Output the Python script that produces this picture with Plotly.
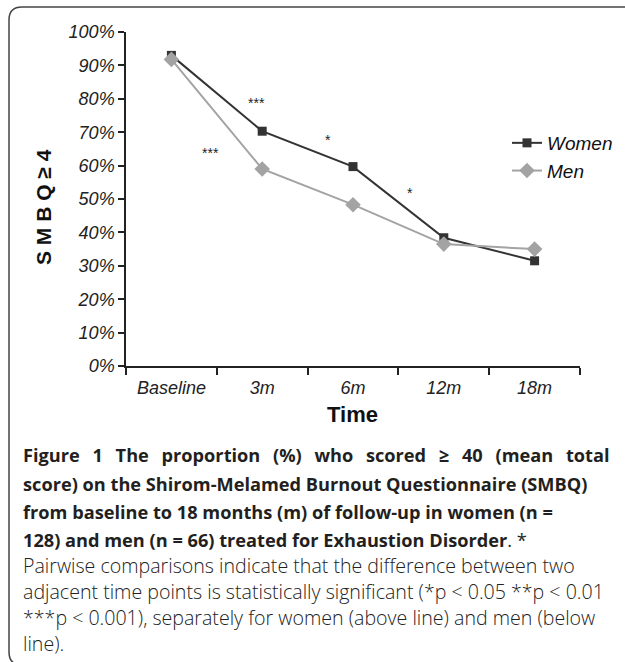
import plotly.graph_objects as go

categories = ["Baseline", "3m", "6m", "12m", "18m"]
women = [93.0, 70.3, 59.7, 38.4, 31.5]
men = [91.8, 59.0, 48.3, 36.5, 35.0]

# significance stars: (x position in category units, y value, label)
star_x = [0.94, 0.43, 1.73, 2.63]
star_y = [78.7, 63.9, 67.7, 51.9]
star_text = ["***", "***", "*", "*"]

W, H = 625, 662
L, R, T, B = 126, 45, 32, 296
PW, PH = W - L - R, H - T - B


def px(x):
    return (x - L) / PW


def py(y):
    return (H - B - y) / PH


TICKFONT = dict(family="Liberation Sans, Arial", size=18,
                color="#222222", style="italic")

fig = go.Figure()
fig.add_trace(go.Scatter(
    x=categories, y=women, name="Women", mode="lines+markers",
    line=dict(color="#333333", width=2),
    marker=dict(symbol="square", size=9, color="#333333"),
))
fig.add_trace(go.Scatter(
    x=categories, y=men, name="Men", mode="lines+markers",
    line=dict(color="#a3a3a3", width=2),
    marker=dict(symbol="diamond", size=12, color="#a3a3a3"),
))

for sx, sy, st in zip(star_x, star_y, star_text):
    fig.add_annotation(x=sx, y=sy, xref="x", yref="y", text=st, showarrow=False,
                       xanchor="center", yanchor="middle",
                       font=dict(family="Liberation Sans, Arial", size=14, color="#222222"))

# axis titles
fig.add_annotation(x=px(43), y=py(207), xref="paper", yref="paper",
                   xanchor="center", yanchor="middle",
                   text="S M B Q ≥ 4", textangle=-90, showarrow=False,
                   font=dict(family="Liberation Sans, Arial", size=21, color="#111111", weight="bold"))
fig.add_annotation(x=px(352), y=py(414), xref="paper", yref="paper",
                   xanchor="center", yanchor="middle",
                   text="Time", showarrow=False,
                   font=dict(family="Liberation Sans, Arial", size=22,
                             color="#111111", weight="bold"))

# caption
bold_lines = [
    "<span style='word-spacing:8px'>Figure 1 The proportion (%) who scored ≥ 40 (mean total</span>",
    "score) on the Shirom-Melamed Burnout Questionnaire (SMBQ)",
    "from baseline to 18 months (m) of follow-up in women (n =",
    "128) and men (n = 66) treated for Exhaustion Disorder<span style='font-weight:normal'>. *</span>",
]
bold_y = [455, 484, 512, 540]
for t, yy in zip(bold_lines, bold_y):
    fig.add_annotation(x=px(21), y=py(yy), xref="paper", yref="paper",
                       xanchor="left", yanchor="middle",
                       text="<b>" + t + "</b>", showarrow=False,
                       font=dict(family="Open Sans, sans-serif", size=18.2, color="#231f20"))
norm_lines = [
    "Pairwise comparisons indicate that the difference between two",
    "adjacent time points is statistically significant (*p &lt; 0.05 **p &lt; 0.01",
    "***p &lt; 0.001), separately for women (above line) and men (below",
    "line).",
]
norm_y = [565, 591, 617, 643]
for t, yy in zip(norm_lines, norm_y):
    fig.add_annotation(x=px(21), y=py(yy), xref="paper", yref="paper",
                       xanchor="left", yanchor="middle",
                       text=t, showarrow=False,
                       font=dict(family="Open Sans, sans-serif", size=19.6, color="#222222",
                                 weight=300))

# rounded border
r = 13
path = (f"M {px(640)},{py(7)} L {px(9 + r)},{py(7)} "
        f"Q {px(9)},{py(7)} {px(9)},{py(7 + r)} "
        f"L {px(9)},{py(665 - r)} Q {px(9)},{py(665)} {px(9 + r)},{py(665)} "
        f"L {px(640)},{py(665)}")
fig.add_shape(type="path", path=path, xref="paper", yref="paper",
              line=dict(color="#444444", width=1.5))

fig.update_layout(
    width=W, height=H,
    margin=dict(l=L, r=R, t=T, b=B, autoexpand=False),
    paper_bgcolor="white", plot_bgcolor="white",
    showlegend=True,
    legend=dict(x=px(507), y=py(124), xanchor="left", yanchor="top",
                bgcolor="rgba(0,0,0,0)",
                font=dict(family="Liberation Sans, Arial", size=19,
                          color="#111111", style="italic"),
                itemwidth=30, tracegroupgap=0),
    xaxis=dict(
        type="category", range=[-0.5, 4.5], tickson="boundaries",
        showline=True, linecolor="#222222", linewidth=1.5,
        ticks="outside", ticklen=7, tickcolor="#222222", tickwidth=1.5,
        ticklabelstandoff=5,
        showgrid=False, zeroline=False, tickfont=TICKFONT, fixedrange=True,
    ),
    yaxis=dict(
        range=[0, 100], dtick=10, ticksuffix="%",
        showline=True, linecolor="#222222", linewidth=1.5,
        ticks="outside", ticklen=6, tickcolor="#222222", tickwidth=1.5,
        showgrid=False, zeroline=False, tickfont=TICKFONT, fixedrange=True,
    ),
)

fig.write_html("out.html", config={"displayModeBar": False},
               post_script="document.body.style.margin='0';document.body.style.overflow='hidden';")
